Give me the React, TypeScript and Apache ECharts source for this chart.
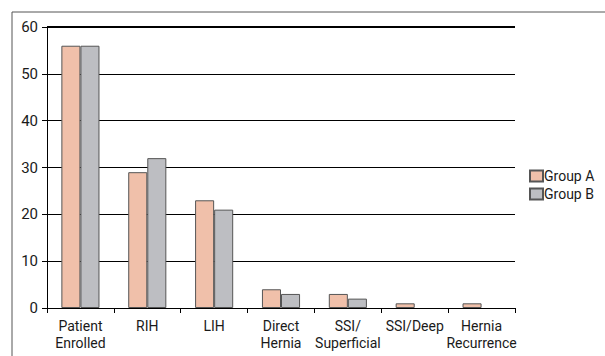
import React, { useEffect, useRef } from "react";
import * as echarts from "echarts";

const categories = [
  "Patient\nEnrolled",
  "RIH",
  "LIH",
  "Direct\nHernia",
  "SSI/\nSuperficial",
  "SSI/Deep",
  "Hernia\nRecurrence",
];
const groupA = [56, 29, 23, 4, 3, 1, 1];
const groupB = [56, 32, 21, 3, 2, 0, 0];
const seriesNames = ["Group A", "Group B"];

const FONT = "Roboto, 'Liberation Sans', sans-serif";

const toItems = (arr: number[]) =>
  arr.map((v) => (v === 0 ? { value: v, itemStyle: { borderWidth: 0 } } : v));

export default function App() {
  const ref = useRef<HTMLDivElement>(null);
  useEffect(() => {
    if (!ref.current) return;
    const chart = echarts.init(ref.current, null, { renderer: "svg" });
    chart.setOption({
      animation: false,
      backgroundColor: "#fff",
      textStyle: { fontFamily: FONT },
      graphic: [
        {
          type: "rect",
          shape: { x: 12, y: 12, width: 620, height: 360 },
          style: { fill: "none", stroke: "#555", lineWidth: 1 },
          silent: true,
        },
      ],
      grid: { left: 47, top: 27, right: 90, bottom: 48 },
      legend: {
        orient: "vertical",
        left: 529,
        top: 169,
        itemWidth: 13,
        itemHeight: 11,
        itemGap: 4,
        padding: 0,
        icon: "rect",
        textStyle: { fontFamily: FONT, fontSize: 14, color: "#1a1a1a", padding: [0, 0, 0, -4] },
        data: seriesNames,
      },
      xAxis: {
        type: "category",
        data: categories,
        axisLine: { lineStyle: { color: "#000", width: 1 } },
        axisTick: { show: true, length: 5, lineStyle: { color: "#000" } },
        axisLabel: {
          interval: 0,
          fontFamily: FONT,
          fontSize: 14,
          color: "#1a1a1a",
          lineHeight: 17,
          margin: 9,
        },
      },
      yAxis: {
        type: "value",
        min: 0,
        max: 60,
        interval: 10,
        axisLine: { show: true, lineStyle: { color: "#000", width: 1 } },
        axisTick: { show: true, length: 5, lineStyle: { color: "#000" } },
        axisLabel: { fontFamily: FONT, fontSize: 15, color: "#1a1a1a", margin: 9 },
        splitLine: { lineStyle: { color: "#000", width: 1 } },
      },
      series: [
        {
          name: seriesNames[0],
          type: "bar",
          data: toItems(groupA),
          barGap: "0%",
          barCategoryGap: "43%",
          itemStyle: { color: "#F0C0AA", borderColor: "#555", borderWidth: 1 },
          markLine: {
            silent: true,
            symbol: "none",
            label: { show: false },
            lineStyle: { color: "#000", width: 2, type: "solid" },
            data: [{ yAxis: 60 }],
          },
        },
        {
          name: seriesNames[1],
          type: "bar",
          data: toItems(groupB),
          itemStyle: { color: "#BDBEC2", borderColor: "#555", borderWidth: 1 },
        },
      ],
    });
    return () => chart.dispose();
  }, []);
  return (
    <div
      ref={ref}
      style={{ position: "absolute", left: 0, top: 0, width: 605, height: 356 }}
    />
  );
}
